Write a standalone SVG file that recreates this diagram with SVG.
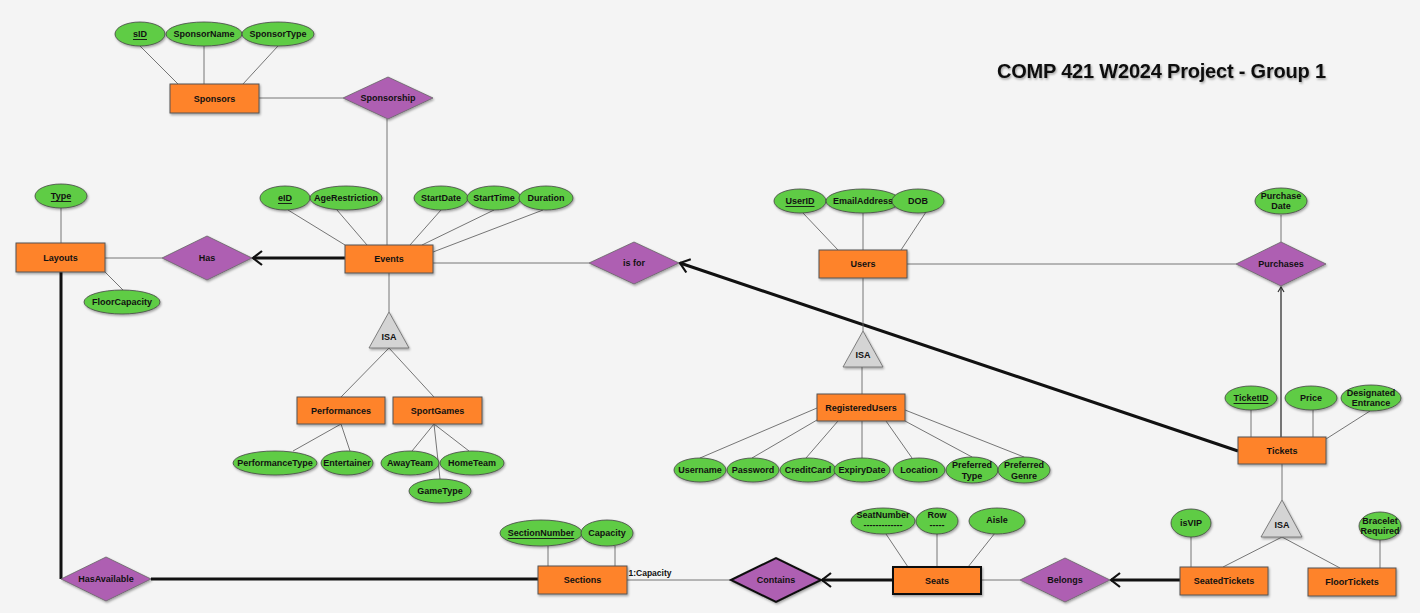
<svg xmlns="http://www.w3.org/2000/svg" width="1420" height="613" viewBox="0 0 1420 613">
<style>
text{font-family:"Liberation Sans",Arial,sans-serif;font-weight:bold;font-size:9px;fill:#111;text-anchor:middle;dominant-baseline:central}
.ent,.ent2,.att,.rel,.rel2,.isa{filter:url(#sh)}
.ent{fill:#fe832a;stroke:#555;stroke-width:1}
.ent2{fill:#fe832a;stroke:#111;stroke-width:2}
.att{fill:#5fcc44;stroke:#444;stroke-width:0.8}
.rel{fill:#ae5fb2;stroke:#666;stroke-width:0.8}
.rel2{fill:#ae5fb2;stroke:#111;stroke-width:2}
.isa{fill:#d4d4d4;stroke:#666;stroke-width:0.8}
.ln{stroke:#666;stroke-width:0.9;fill:none}
.thick{stroke:#111;stroke-width:3;fill:none}
.key{text-decoration:underline}
.title{font-size:20px;text-anchor:start;dominant-baseline:alphabetic}
</style>
<defs>
<filter id="sh" x="-20%" y="-20%" width="140%" height="160%">
<feDropShadow dx="1" dy="1.5" stdDeviation="1" flood-color="#000" flood-opacity="0.35"/>
</filter>
<marker id="arr" markerUnits="userSpaceOnUse" markerWidth="14" markerHeight="18" refX="11" refY="8" orient="auto">
<path d="M2,1 L11,8 L2,15" fill="none" stroke="#111" stroke-width="2.2"/>
</marker>
<marker id="arrs" markerUnits="userSpaceOnUse" markerWidth="8" markerHeight="8" refX="6" refY="4" orient="auto">
<path d="M1,1 L6,4 L1,7" fill="none" stroke="#333" stroke-width="1.2"/>
</marker>
</defs>
<rect x="0" y="0" width="1420" height="613" fill="#f4f4f4"/>
<text class="title" x="997" y="78" textLength="329" filter="url(#sh)">COMP 421 W2024 Project - Group 1</text>

<g id="connectors">
<line class="ln" x1="140" y1="46" x2="178" y2="84"/>
<line class="ln" x1="204" y1="46" x2="204" y2="84"/>
<line class="ln" x1="278" y1="46" x2="243" y2="84"/>
<line class="ln" x1="259" y1="98" x2="343" y2="98"/>
<line class="ln" x1="387" y1="119" x2="387" y2="245"/>
<line class="ln" x1="288" y1="210" x2="345" y2="245"/>
<line class="ln" x1="337" y1="210" x2="367" y2="245"/>
<line class="ln" x1="441" y1="210" x2="410" y2="245"/>
<line class="ln" x1="494" y1="210" x2="422" y2="245"/>
<line class="ln" x1="543" y1="210" x2="433" y2="252"/>
<line class="ln" x1="61" y1="208" x2="61" y2="243"/>
<line class="ln" x1="105" y1="272" x2="123" y2="290"/>
<line class="ln" x1="105" y1="258" x2="162" y2="258"/>
<line class="thick" x1="345" y1="258" x2="253" y2="258" marker-end="url(#arr)"/>
<line class="ln" x1="389" y1="272" x2="389" y2="312"/>
<line class="ln" x1="389" y1="348" x2="341" y2="397"/>
<line class="ln" x1="389" y1="348" x2="434" y2="397"/>
<line class="ln" x1="341" y1="424" x2="293" y2="451"/>
<line class="ln" x1="341" y1="424" x2="350" y2="451"/>
<line class="ln" x1="434" y1="424" x2="412" y2="451"/>
<line class="ln" x1="434" y1="424" x2="469" y2="451"/>
<line class="ln" x1="434" y1="424" x2="440" y2="479"/>
<line class="ln" x1="433" y1="263" x2="589" y2="263"/>
<line class="thick" x1="1238" y1="451" x2="680" y2="263" marker-end="url(#arr)"/>
<line class="ln" x1="803" y1="213" x2="838" y2="250"/>
<line class="ln" x1="863" y1="213" x2="863" y2="250"/>
<line class="ln" x1="926" y1="212" x2="901" y2="250"/>
<line class="ln" x1="907" y1="264" x2="1236" y2="264"/>
<line class="ln" x1="863" y1="278" x2="863" y2="331"/>
<line class="ln" x1="862" y1="366" x2="862" y2="394"/>
<line class="ln" x1="700" y1="458" x2="817" y2="408"/>
<line class="ln" x1="752" y1="458" x2="817" y2="420"/>
<line class="ln" x1="806" y1="458" x2="838" y2="421"/>
<line class="ln" x1="862" y1="458" x2="862" y2="421"/>
<line class="ln" x1="912" y1="458" x2="886" y2="421"/>
<line class="ln" x1="972" y1="457" x2="905" y2="421"/>
<line class="ln" x1="1024" y1="457" x2="905" y2="410"/>
<line class="ln" x1="1281" y1="215" x2="1281" y2="242"/>
<line x1="1281" y1="437" x2="1281" y2="287" stroke="#555" stroke-width="1.6" marker-end="url(#arrs)"/>
<line class="ln" x1="1251" y1="410" x2="1251" y2="437"/>
<line class="ln" x1="1313" y1="410" x2="1313" y2="437"/>
<line class="ln" x1="1370" y1="411" x2="1326" y2="439"/>
<line class="ln" x1="1282" y1="464" x2="1282" y2="500"/>
<line class="ln" x1="1282" y1="537" x2="1223" y2="567"/>
<line class="ln" x1="1282" y1="537" x2="1340" y2="568"/>
<line class="ln" x1="1191" y1="537" x2="1191" y2="567"/>
<line class="ln" x1="1380" y1="540" x2="1380" y2="568"/>
<line class="ln" x1="886" y1="534" x2="908" y2="567"/>
<line class="ln" x1="937" y1="534" x2="937" y2="567"/>
<line class="ln" x1="995" y1="533" x2="968" y2="567"/>
<line class="ln" x1="981" y1="580" x2="1020" y2="580"/>
<line class="thick" x1="1180" y1="580" x2="1111" y2="580" marker-end="url(#arr)"/>
<line class="thick" x1="893" y1="580" x2="822" y2="580" marker-end="url(#arr)"/>
<line class="ln" x1="627" y1="580" x2="731" y2="580"/>
<line class="ln" x1="548" y1="546" x2="548" y2="567"/>
<line class="ln" x1="615" y1="546" x2="615" y2="567"/>
<polyline class="thick" points="61,272 61,579"/>
<line class="thick" x1="151" y1="579" x2="538" y2="579"/>
<text x="650" y="573" style="font-size:8.5px">1:Capacity</text>
</g>

<g id="Sponsors"><rect class="ent" x="170" y="84" width="89" height="29"/><text x="214.5" y="99">Sponsors</text></g>
<g id="sID"><ellipse class="att" cx="140" cy="34" rx="25" ry="12"/><text class="key" x="140" y="34">sID</text></g>
<g id="SponsorName"><ellipse class="att" cx="204" cy="34" rx="38" ry="12"/><text x="204" y="34">SponsorName</text></g>
<g id="SponsorType"><ellipse class="att" cx="278" cy="34" rx="36" ry="12"/><text x="278" y="34">SponsorType</text></g>
<g id="Sponsorship"><polygon class="rel" points="343,98 388,77 433,98 388,119"/><text x="388" y="98">Sponsorship</text></g>

<g id="Events"><rect class="ent" x="345" y="245" width="88" height="28"/><text x="389" y="259">Events</text></g>
<g id="eID"><ellipse class="att" cx="285" cy="198" rx="25" ry="12"/><text class="key" x="285" y="198">eID</text></g>
<g id="AgeRestriction"><ellipse class="att" cx="346" cy="198" rx="36" ry="12"/><text x="346" y="198">AgeRestriction</text></g>
<g id="StartDate"><ellipse class="att" cx="441" cy="198" rx="27" ry="12"/><text x="441" y="198">StartDate</text></g>
<g id="StartTime"><ellipse class="att" cx="494" cy="198" rx="27" ry="12"/><text x="494" y="198">StartTime</text></g>
<g id="Duration"><ellipse class="att" cx="546" cy="198" rx="27" ry="12"/><text x="546" y="198">Duration</text></g>

<g id="Layouts"><rect class="ent" x="16" y="243" width="89" height="29"/><text x="60.5" y="258">Layouts</text></g>
<g id="Type"><ellipse class="att" cx="61" cy="196" rx="26" ry="12"/><text class="key" x="61" y="196">Type</text></g>
<g id="FloorCapacity"><ellipse class="att" cx="122" cy="302" rx="38" ry="12"/><text x="122" y="302">FloorCapacity</text></g>
<g id="Has"><polygon class="rel" points="162,258 207,236 252,258 207,280"/><text x="207" y="258">Has</text></g>

<g id="EventsISA"><polygon class="isa" points="389,312 409,348 369,348"/><text x="389" y="337">ISA</text></g>
<g id="Performances"><rect class="ent" x="297" y="397" width="88" height="27"/><text x="341" y="410.5">Performances</text></g>
<g id="SportGames"><rect class="ent" x="393" y="397" width="89" height="27"/><text x="437.5" y="410.5">SportGames</text></g>
<g id="PerformanceType"><ellipse class="att" cx="275" cy="463" rx="42" ry="12"/><text x="275" y="463">PerformanceType</text></g>
<g id="Entertainer"><ellipse class="att" cx="347" cy="463" rx="26" ry="12"/><text x="347" y="463">Entertainer</text></g>
<g id="AwayTeam"><ellipse class="att" cx="410" cy="463" rx="29" ry="12"/><text x="410" y="463">AwayTeam</text></g>
<g id="HomeTeam"><ellipse class="att" cx="472" cy="463" rx="32" ry="12"/><text x="472" y="463">HomeTeam</text></g>
<g id="GameType"><ellipse class="att" cx="440" cy="491" rx="31" ry="12"/><text x="440" y="491">GameType</text></g>

<g id="IsFor"><polygon class="rel" points="589,263 634,242 679,263 634,284"/><text x="634" y="263">is for</text></g>

<g id="Users"><rect class="ent" x="819" y="250" width="88" height="28"/><text x="863" y="264">Users</text></g>
<g id="UserID"><ellipse class="att" cx="800" cy="201" rx="26" ry="12"/><text class="key" x="800" y="201">UserID</text></g>
<g id="EmailAddress"><ellipse class="att" cx="863" cy="201" rx="37" ry="12"/><text x="863" y="201">EmailAddress</text></g>
<g id="DOB"><ellipse class="att" cx="918" cy="201" rx="26" ry="12"/><text x="918" y="201">DOB</text></g>
<g id="UsersISA"><polygon class="isa" points="863,331 883,367 843,367"/><text x="863" y="355">ISA</text></g>

<g id="RegisteredUsers"><rect class="ent" x="817" y="394" width="88" height="27"/><text x="861" y="407.5">RegisteredUsers</text></g>
<g id="Username"><ellipse class="att" cx="700" cy="470" rx="26" ry="12"/><text x="700" y="470">Username</text></g>
<g id="Password"><ellipse class="att" cx="753" cy="470" rx="26" ry="12"/><text x="753" y="470">Password</text></g>
<g id="CreditCard"><ellipse class="att" cx="808" cy="470" rx="28" ry="12"/><text x="808" y="470">CreditCard</text></g>
<g id="ExpiryDate"><ellipse class="att" cx="862" cy="470" rx="28" ry="12"/><text x="862" y="470">ExpiryDate</text></g>
<g id="Location"><ellipse class="att" cx="919" cy="470" rx="26" ry="12"/><text x="919" y="470">Location</text></g>
<g id="PreferredType"><ellipse class="att" cx="972" cy="470" rx="26" ry="13"/><text x="972" y="465">Preferred</text><text x="972" y="476">Type</text></g>
<g id="PreferredGenre"><ellipse class="att" cx="1024" cy="470" rx="26" ry="13"/><text x="1024" y="465">Preferred</text><text x="1024" y="476">Genre</text></g>

<g id="Purchases"><polygon class="rel" points="1236,264 1281,242 1326,264 1281,286"/><text x="1281" y="264">Purchases</text></g>
<g id="PurchaseDate"><ellipse class="att" cx="1281" cy="201" rx="26" ry="13"/><text x="1281" y="196">Purchase</text><text x="1281" y="206">Date</text></g>

<g id="Tickets"><rect class="ent" x="1238" y="437" width="88" height="27"/><text x="1282" y="450.5">Tickets</text></g>
<g id="TicketID"><ellipse class="att" cx="1251" cy="398" rx="26" ry="12"/><text class="key" x="1251" y="398">TicketID</text></g>
<g id="Price"><ellipse class="att" cx="1311" cy="398" rx="26" ry="12"/><text x="1311" y="398">Price</text></g>
<g id="DesignatedEntrance"><ellipse class="att" cx="1371" cy="398" rx="30" ry="13"/><text x="1371" y="393">Designated</text><text x="1371" y="403">Entrance</text></g>
<g id="TicketsISA"><polygon class="isa" points="1282,500 1302,537 1261,537"/><text x="1282" y="525">ISA</text></g>

<g id="SeatedTickets"><rect class="ent" x="1180" y="567" width="88" height="28"/><text x="1224" y="581">SeatedTickets</text></g>
<g id="FloorTickets"><rect class="ent" x="1308" y="568" width="88" height="28"/><text x="1352" y="582">FloorTickets</text></g>
<g id="isVIP"><ellipse class="att" cx="1191" cy="523" rx="20" ry="14"/><text x="1191" y="523">isVIP</text></g>
<g id="BraceletRequired"><ellipse class="att" cx="1380" cy="526" rx="21" ry="14"/><text x="1380" y="521">Bracelet</text><text x="1380" y="531">Required</text></g>

<g id="Belongs"><polygon class="rel" points="1020,580 1065,558 1110,580 1065,602"/><text x="1065" y="580">Belongs</text></g>
<g id="Seats"><rect class="ent2" x="893" y="567" width="88" height="27"/><text x="937" y="580.5">Seats</text></g>
<g id="SeatNumber"><ellipse class="att" cx="883" cy="521" rx="32" ry="13"/><text x="883" y="515">SeatNumber</text><text x="883" y="525">-------------</text></g>
<g id="Row"><ellipse class="att" cx="937" cy="521" rx="21" ry="13"/><text x="937" y="515">Row</text><text x="937" y="525">-----</text></g>
<g id="Aisle"><ellipse class="att" cx="997" cy="521" rx="28" ry="13"/><text x="997" y="520">Aisle</text></g>

<g id="Contains"><polygon class="rel2" points="731,580 776,558 821,580 776,602"/><text x="776" y="580">Contains</text></g>
<g id="Sections"><rect class="ent" x="538" y="566" width="89" height="28"/><text x="582.5" y="580">Sections</text></g>
<g id="SectionNumber"><ellipse class="att" cx="541" cy="533" rx="41" ry="13"/><text class="key" x="541" y="533">SectionNumber</text></g>
<g id="Capacity"><ellipse class="att" cx="607" cy="533" rx="26" ry="13"/><text x="607" y="533">Capacity</text></g>

<g id="HasAvailable"><polygon class="rel" points="61,579 106,557 151,579 106,601"/><text x="106" y="579">HasAvailable</text></g>
</svg>
